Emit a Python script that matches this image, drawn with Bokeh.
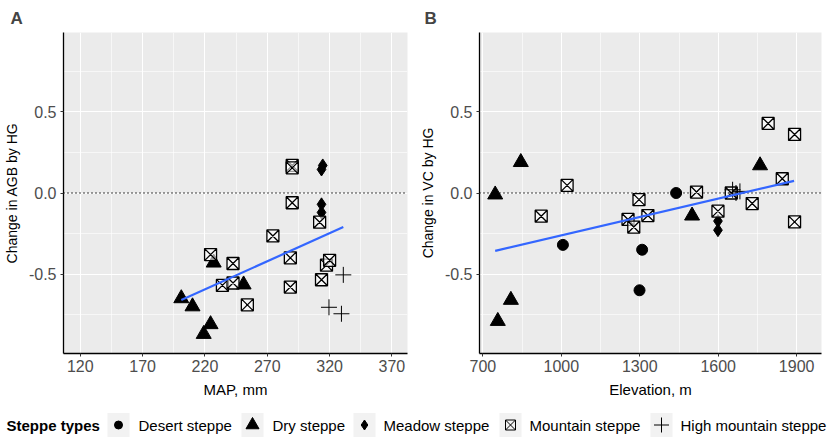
from bokeh.plotting import figure
from bokeh.layouts import column, row
from bokeh.models import Range1d, FixedTicker, NumeralTickFormatter, Span
from bokeh.core.properties import value
from bokeh.embed import file_html
from bokeh.resources import INLINE

# ---------------- data ----------------
# Panel A: MAP (mm) vs change in AGB by HG
a_dry_x = [201, 210, 219, 224.5, 227, 251]
a_dry_y = [-0.65, -0.70, -0.87, -0.81, -0.43, -0.565]
a_mountain_x = [224.5, 234, 242.5, 242.5, 254, 274.5, 288.5, 288.5, 290, 290, 290, 312, 313.5, 317.5, 320]
a_mountain_y = [-0.38, -0.57, -0.435, -0.555, -0.69, -0.265, -0.40, -0.58, 0.17, 0.155, -0.06, -0.18, -0.535, -0.445, -0.415]
a_meadow_x = [314.5, 313.5, 313.5, 313.5]
a_meadow_y = [0.17, 0.145, -0.07, -0.12]
a_high_x = [331, 319.5, 329.5]
a_high_y = [-0.505, -0.705, -0.745]
a_fit_x = [201, 331]
a_fit_y = [-0.66, -0.21]

# Panel B: Elevation (m) vs change in VC by HG
b_dry_x = [747, 845, 807, 757, 1500, 1760]
b_dry_y = [-0.01, 0.19, -0.66, -0.79, -0.14, 0.17]
b_desert_x = [1006, 1309, 1299, 1439]
b_desert_y = [-0.32, -0.35, -0.60, 0.0]
b_mountain_x = [923, 1022, 1297, 1255, 1277, 1331, 1517, 1599, 1650, 1730, 1791, 1845, 1892, 1892]
b_mountain_y = [-0.143, 0.047, -0.041, -0.163, -0.21, -0.139, 0.006, -0.112, 0.0, -0.065, 0.429, 0.088, 0.361, -0.178]
b_meadow_x = [1599, 1599]
b_meadow_y = [-0.173, -0.229]
b_high_x = [1655, 1668, 1683]
b_high_y = [0.02, 0.0, 0.01]
b_fit_x = [747, 1890]
b_fit_y = [-0.357, 0.075]

a_xticks = [120, 170, 220, 270, 320, 370]
a_xminor = [145, 195, 245, 295, 345]
b_xticks = [700, 1000, 1300, 1600, 1900]
b_xminor = [850, 1150, 1450, 1750]
yticks = [-0.5, 0.0, 0.5]
yminor = [-0.75, -0.25, 0.25, 0.75]

legend_title = "Steppe types"
legend_labels = ["Desert steppe", "Dry steppe", "Meadow steppe", "Mountain steppe", "High mountain steppe"]

FONT = "Liberation Sans"
BG = "#EBEBEB"


def make_panel(label, xr, xticks, xminor, xtitle, ytitle, width, left, right):
    p = figure(width=width, height=400, output_backend="svg", toolbar_location=None,
               x_range=Range1d(*xr), y_range=Range1d(-0.99, 0.99),
               min_border_left=left, min_border_right=right,
               min_border_top=32, min_border_bottom=45)
    p.background_fill_color = BG
    p.border_fill_color = "white"
    p.outline_line_color = None
    p.title.text = label
    p.title.text_font = FONT
    p.title.text_font_size = "17px"
    p.title.text_font_style = "bold"
    p.title.align = "left"
    p.title.offset = -(left - 10)
    p.title.standoff = 9

    p.xaxis.ticker = FixedTicker(ticks=xticks, minor_ticks=xminor)
    p.yaxis.ticker = FixedTicker(ticks=yticks, minor_ticks=yminor)
    p.yaxis.formatter = NumeralTickFormatter(format="0.0")
    for ax in (p.xaxis, p.yaxis):
        ax.axis_line_color = "black"
        ax.axis_line_width = 1.3
        ax.major_tick_line_color = "#333333"
        ax.major_tick_out = 3
        ax.major_tick_in = 0
        ax.minor_tick_line_color = None
        ax.major_label_text_font = FONT
        ax.major_label_text_color = "#4D4D4D"
        ax.axis_label_text_font = FONT
        ax.axis_label_text_font_style = "normal"
        ax.axis_label_text_color = "black"
    p.xaxis.major_label_text_font_size = "16px"
    p.yaxis.major_label_text_font_size = "16px"
    p.xaxis.axis_label_text_font_size = "15px"
    p.yaxis.axis_label_text_font_size = "14px"
    p.xaxis.major_label_standoff = 2
    p.yaxis.major_label_standoff = 3
    p.xaxis.axis_label_standoff = 6
    p.yaxis.axis_label_standoff = 6
    p.xaxis.axis_label = xtitle
    p.yaxis.axis_label = ytitle

    for g in (p.xgrid, p.ygrid):
        g.grid_line_color = "white"
        g.grid_line_width = 1.1
        g.minor_grid_line_color = "white"
        g.minor_grid_line_width = 0.6

    p.add_layout(Span(location=0, dimension="width", line_color="black",
                      line_width=1.3, line_dash="1 3", level="underlay"))
    return p


pA = make_panel("A", (106.5, 382.5), a_xticks, a_xminor, "MAP, mm",
                "Change in AGB by HG", 414, 63, 7)
pB = make_panel("B", (687, 1995), b_xticks, b_xminor, "Elevation, m",
                "Change in VC by HG", 415, 65, 8)


def draw_points(p, dry, desert, meadow, mountain, high, fit):
    if desert:
        p.scatter(desert[0], desert[1], marker="circle", size=11, color="black")
    p.scatter(dry[0], dry[1], marker="triangle", size=15, color="black")
    p.scatter(meadow[0], meadow[1], marker="diamond", size=13, color="black")
    p.scatter(mountain[0], mountain[1], marker="square_x", size=12,
              line_color="black", line_width=1.3, fill_color="white", fill_alpha=0.6)
    p.scatter(high[0], high[1], marker="cross", size=16, line_color="black", line_width=1)
    p.line(fit[0], fit[1], line_color="#3366FF", line_width=2.2)


draw_points(pA, (a_dry_x, a_dry_y), None, (a_meadow_x, a_meadow_y),
            (a_mountain_x, a_mountain_y), (a_high_x, a_high_y), (a_fit_x, a_fit_y))
draw_points(pB, (b_dry_x, b_dry_y), (b_desert_x, b_desert_y), (b_meadow_x, b_meadow_y),
            (b_mountain_x, b_mountain_y), (b_high_x, b_high_y), (b_fit_x, b_fit_y))

# ---------------- legend ----------------
LW, LH = 829, 41
pl = figure(width=LW, height=LH, output_backend="svg", toolbar_location=None,
            x_range=Range1d(0, LW), y_range=Range1d(0, LH),
            min_border=0, min_border_left=0, min_border_right=0,
            min_border_top=0, min_border_bottom=0)
pl.axis.visible = False
pl.grid.visible = False
pl.outline_line_color = None
pl.background_fill_color = "white"
pl.border_fill_color = "white"

ky = 16.5
key_x = [118, 252, 364, 510, 661]
text_x = [138, 272, 383, 529, 680]
pl.rect(key_x, [ky] * 5, width=22, height=24, fill_color="#F2F2F2", line_color=None)
pl.scatter([key_x[0]], [ky], marker="circle", size=8, color="black")
pl.scatter([key_x[1]], [ky], marker="triangle", size=13, color="black")
pl.scatter([key_x[2]], [ky], marker="diamond", size=10, color="black")
pl.scatter([key_x[3]], [ky], marker="square_x", size=10, line_color="black",
           line_width=1, fill_color=None)
pl.scatter([key_x[4]], [ky], marker="cross", size=15, line_color="black", line_width=1)
pl.text([6], [ky], text=[legend_title], text_font=value(FONT), text_font_size="15px",
        text_font_style="bold", text_baseline="middle", text_align="left", text_color="black")
pl.text(text_x, [ky] * 5, text=legend_labels, text_font=value(FONT), text_font_size="15px",
        text_baseline="middle", text_align="left", text_color="black")

layout = column(row(pA, pB), pl)
open("out.html", "w").write(file_html(layout, INLINE))
